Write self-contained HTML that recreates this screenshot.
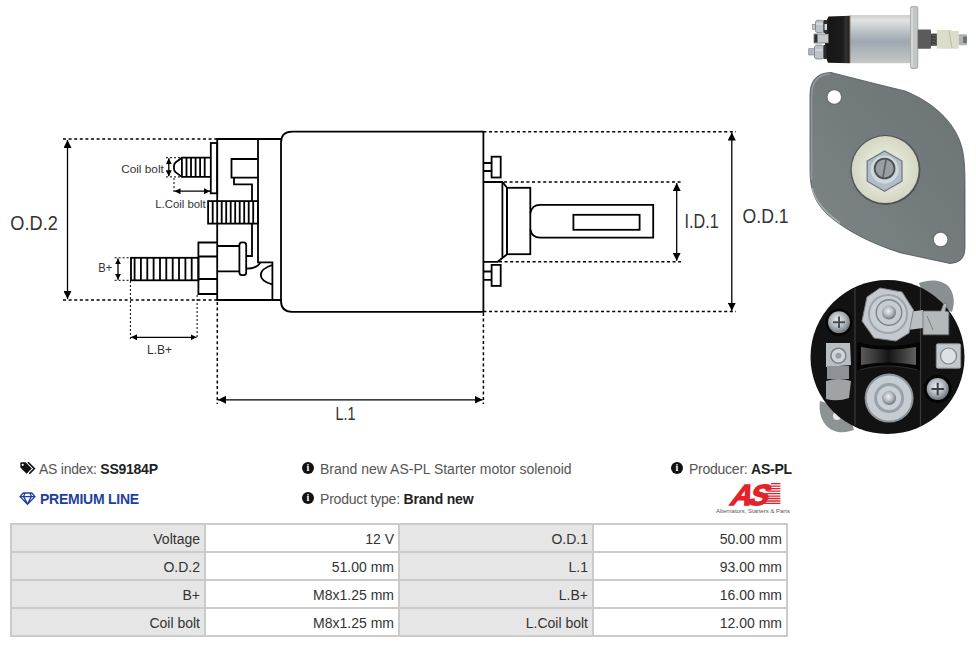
<!DOCTYPE html>
<html><head><meta charset="utf-8">
<style>
html,body{margin:0;padding:0;background:#fff;width:976px;height:647px;overflow:hidden;position:relative;font-family:"Liberation Sans",sans-serif;}
svg{position:absolute;left:0;top:0;}
.info{position:absolute;font-size:14px;color:#555;white-space:nowrap;line-height:16px;}
.info b{color:#222;}
table{position:absolute;left:10px;top:523px;border-collapse:collapse;border:2px solid #cbcbcb;font-size:14px;color:#333;}
td{border:2px solid #cbcbcb;width:188px;height:24px;padding:2px 4px 0 0;text-align:right;box-sizing:content-box;line-height:24px;}
td.h{background:#e6e6e6;}
.ic{display:inline-block;width:12px;height:12px;border-radius:50%;background:#111;color:#fff;font-family:"Liberation Serif",serif;font-weight:bold;font-size:10px;line-height:12px;text-align:center;margin-right:6px;vertical-align:1px;letter-spacing:0;position:relative;top:-2px;}
</style></head><body>
<svg id="draw" width="976" height="647" viewBox="0 0 976 647">
<defs>
<marker id="a" viewBox="0 0 10 10" refX="10" refY="5" markerWidth="8" markerHeight="8" markerUnits="userSpaceOnUse" orient="auto-start-reverse"><path d="M0,0 L10,5 L0,10z" fill="#000"/></marker>
<marker id="s" viewBox="0 0 10 10" refX="10" refY="5" markerWidth="6" markerHeight="6" markerUnits="userSpaceOnUse" orient="auto-start-reverse"><path d="M0,0 L10,5 L0,10z" fill="#000"/></marker>
</defs>
<g fill="none" stroke="#000" stroke-width="1.8">
<!-- can -->
<path d="M483.4,131.7 H292 Q281,131.7 281,142.7 V300.8 Q281,311.8 292,311.8 H483.4 Z"/>
<!-- left block -->
<path d="M282,139 H217.2 V300 H282"/>
<path d="M258,139 V262.4 H272.4 V300"/>
<rect x="210.8" y="143" width="6.4" height="50.3"/>
<path d="M258,159 H231.5 V177.6 H258"/>
<path d="M234,177.6 V184.4 H252 V201"/>
<path d="M252,223.6 V256 H246.2"/>
<!-- coil bolt -->
<path d="M210.8,157.7 H181.9 L175.5,162.5 Q174,163.8 174,166 V168.5 Q174,170.8 175.5,172.1 L181.9,176.9 H210.8"/>
<path d="M181.9,158 V176.6 M186.5,158 V176.6 M191,158 V176.6 M195.6,158 V176.6 M200.1,158 V176.6 M204.7,158 V176.6"/>
<!-- middle threaded -->
<rect x="208.1" y="201.1" width="49.8" height="22.5"/>
<path d="M212.7,201 V223.6 M221.7,201 V223.6 M226.2,201 V223.6 M230.7,201 V223.6 M235.2,201 V223.6 M239.7,201 V223.6 M244.2,201 V223.6 M248.7,201 V223.6 M253.2,201 V223.6"/>
<!-- B+ nut & bolt -->
<path d="M217.2,242.5 H198.4 V294 H217.2 M198.4,256.5 H217.2 M198.4,279 H217.2"/>
<rect x="131" y="257.8" width="67.4" height="22.5"/>
<path d="M134.6,258 V280 M140.9,258 V280 M147.3,258 V280 M153.6,258 V280 M160,258 V280 M166.3,258 V280 M172.7,258 V280 M179,258 V280 M185.4,258 V280 M191.7,258 V280"/>
<!-- spool -->
<path d="M217.2,246 H239.4 M217.2,271.4 H239.4"/>
<rect x="239.4" y="242.4" width="6.8" height="32.7" rx="2.6"/>
<path d="M246.2,268.6 Q257,268.6 260.5,262.4"/>
<path d="M272.2,265 C257,270 257,280 272.2,284.4"/>
<!-- right side -->
<path d="M483.4,163 H491.6 M483.4,171 H491.6"/>
<rect x="491.6" y="156.7" width="9.1" height="20.8"/>
<path d="M483.4,271.5 H491.6 M483.4,279.9 H491.6"/>
<rect x="491.6" y="264.9" width="9.1" height="21"/>
<path d="M483.4,182 H502.4 L507,187.8 V254.3 L497.7,261.8 H483.4"/>
<path d="M502.4,182 V257.2"/>
<rect x="507" y="187.8" width="23.3" height="66.4"/>
<path d="M530.3,213 Q532,204.8 540,204.8 H653.2 V237.7 H540 Q532,237.7 530.3,229.5"/>
<rect x="573.4" y="214.8" width="66.2" height="15"/>
</g>
<!-- dashed lines -->
<g fill="none" stroke="#000" stroke-width="1.5" stroke-dasharray="3 2.6">
<path d="M63,139 H217 M63,300 H217"/>
<path d="M483.4,131.7 H736 M483.4,311.6 H736"/>
<path d="M504,182 H681 M499,261.8 H681"/>
<path d="M217.3,302 V404 M483.4,313 V404"/>
</g>
<g fill="none" stroke="#000" stroke-width="1" stroke-dasharray="2 2">
<path d="M166,157.7 H181 M166,176.9 H181"/>
<path d="M174,178 V194 M210.5,178 V194"/>
<path d="M114.6,257.8 H131 M114.6,280.3 H131"/>
<path d="M130.4,281 V339 M197.1,295 V339"/>
</g>
<!-- arrows -->
<g fill="none" stroke="#000" stroke-width="1.3">
<path d="M67.5,140 V299" marker-start="url(#a)" marker-end="url(#a)"/>
<path d="M731.8,132.5 V310.8" marker-start="url(#a)" marker-end="url(#a)"/>
<path d="M676.7,183 V260.8" marker-start="url(#a)" marker-end="url(#a)"/>
<path d="M218,399.8 H482.6" marker-start="url(#a)" marker-end="url(#a)"/>
<path d="M131,337.3 H196.5" marker-start="url(#s)" marker-end="url(#s)"/>
<path d="M174.5,191.2 H210" marker-start="url(#s)" marker-end="url(#s)"/>
<path d="M168.8,158.3 V176.3" marker-start="url(#s)" marker-end="url(#s)"/>
<path d="M118,258.4 V279.7" marker-start="url(#s)" marker-end="url(#s)"/>
</g>
<!-- labels -->
<g font-family="Liberation Sans" fill="#333">
<text x="10.3" y="230" font-size="20.5" textLength="47.5" lengthAdjust="spacingAndGlyphs">O.D.2</text>
<text x="742.6" y="223" font-size="20.5" textLength="46" lengthAdjust="spacingAndGlyphs">O.D.1</text>
<text x="684.6" y="227.6" font-size="20.5" textLength="34" lengthAdjust="spacingAndGlyphs">I.D.1</text>
<text x="335.6" y="420" font-size="19" textLength="20" lengthAdjust="spacingAndGlyphs">L.1</text>
<text x="147" y="353.8" font-size="13.5" textLength="25" lengthAdjust="spacingAndGlyphs">L.B+</text>
<text x="98.2" y="272.2" font-size="13.5" textLength="14" lengthAdjust="spacingAndGlyphs">B+</text>
<text x="121.2" y="172.6" font-size="11.5" textLength="42.6" lengthAdjust="spacingAndGlyphs">Coil bolt</text>
<text x="155.2" y="208" font-size="11.5" textLength="50.6" lengthAdjust="spacingAndGlyphs">L.Coil bolt</text>
</g>
</svg>

<svg id="photos" width="976" height="647" viewBox="0 0 976 647">
<defs>
<linearGradient id="can1" x1="0" y1="0" x2="0" y2="1">
<stop offset="0" stop-color="#c9cccc"/><stop offset="0.1" stop-color="#e2e4e4"/><stop offset="0.3" stop-color="#c2c7ca"/><stop offset="0.55" stop-color="#9ea8b2"/><stop offset="0.8" stop-color="#b4b9bc"/><stop offset="1" stop-color="#c6c9c9"/>
</linearGradient>
<linearGradient id="cap1" x1="0" y1="0" x2="1" y2="0">
<stop offset="0" stop-color="#151515"/><stop offset="0.7" stop-color="#1c1c1c"/><stop offset="0.85" stop-color="#333"/><stop offset="1" stop-color="#1a1a1a"/>
</linearGradient>
<linearGradient id="plate" x1="1" y1="0" x2="0" y2="1">
<stop offset="0" stop-color="#6b7374"/><stop offset="0.5" stop-color="#737b7c"/><stop offset="1" stop-color="#7f8687"/>
</linearGradient>
<radialGradient id="bolt" cx="0.45" cy="0.4" r="0.6">
<stop offset="0" stop-color="#f0f2f4"/><stop offset="0.5" stop-color="#b8bec4"/><stop offset="1" stop-color="#6f767c"/>
</radialGradient>
<radialGradient id="washer" cx="0.5" cy="0.5" r="0.5">
<stop offset="0.6" stop-color="#e1e4d2"/><stop offset="1" stop-color="#d2d6c2"/>
</radialGradient>
</defs>
<!-- photo 1 : side view -->
<g>
<path d="M828.5,16.5 L850,15.7 L850,63.2 L828,62.8 L825,55 L825,24 Z" fill="url(#cap1)"/>
<rect x="812.5" y="24.3" width="3" height="5" fill="#c3c8cc" stroke="#7d8286" stroke-width="0.6"/>
<path d="M815.5,21.5 L817,20.3 H822 L823.5,21.5 V31.5 L822,32.5 H817 L815.5,31.5 Z" fill="#bcc3c9" stroke="#6f757a" stroke-width="0.7"/>
<path d="M816,24 H823" stroke="#e6eaee" stroke-width="1"/>
<rect x="823.5" y="20" width="4" height="13" fill="#2c2c2c"/>
<rect x="824.5" y="24" width="2.5" height="6" fill="#d9dcde"/>
<rect x="814" y="34" width="14.4" height="9" fill="#c4c9cc" stroke="#5e6367" stroke-width="0.7"/>
<rect x="814.3" y="34.5" width="3.2" height="8" fill="#2e2e2e"/>
<rect x="808.7" y="48.7" width="5.8" height="6.3" fill="#bfc4c8" stroke="#767b80" stroke-width="0.6"/>
<path d="M810,49 V55 M812,49 V55" stroke="#8b9095" stroke-width="0.6"/>
<path d="M814.5,46.5 L816,45 H822 L823.5,46.5 V57.5 L822,59 H816 L814.5,57.5 Z" fill="#bcc2c7" stroke="#6f757a" stroke-width="0.7"/>
<path d="M815,50 H823" stroke="#e3e7ea" stroke-width="1"/>
<rect x="823.5" y="45" width="3" height="14" fill="#2a2a2a"/>
<rect x="849.8" y="15.1" width="61" height="48.1" fill="url(#can1)"/>
<path d="M850,15.5 V63" stroke="#7a6a40" stroke-width="0.8"/>
<rect x="910.6" y="6.4" width="7.2" height="62" rx="1.5" fill="#c4c6c6" stroke="#9a9ea0" stroke-width="0.8"/>
<path d="M912,8 V67" stroke="#e8eaea" stroke-width="1"/>
<rect x="917.7" y="29.6" width="13.3" height="19.1" rx="1" fill="#5b5b5b"/>
<rect x="931" y="33.6" width="6.4" height="12.2" fill="#3e3e3e"/>
<path d="M932,35 L936,36 M932,38 L936,39 M932,41 L936,42 M932,44 L936,45" stroke="#777" stroke-width="0.7"/>
<path d="M936.8,30.1 H951 L953,31 H958.8 V48.7 H936.8 Z" fill="#dcdccb"/>
<path d="M949,31 L952,48" stroke="#b9baa8" stroke-width="1"/>
<rect x="958.8" y="34.2" width="8.2" height="11" rx="1" fill="#aeb3b7"/>
<rect x="963" y="36.5" width="4" height="6.5" fill="#6f7478"/>
</g>
<!-- photo 2 : mounting plate -->
<g>
<path d="M810,95 Q810,73 831,72.5 L876,83.9 L905,91 C930,101 955,120 962,148 C965,160 965,175 965,190 L965,248 Q965,263 950,263.5 L900,252.7 C870,243 845,230 828,215 C815,203 810,190 810,170 Z" fill="url(#plate)"/>
<path d="M810,95 Q810,73 831,72.5 L876,83.9 L905,91 C930,101 955,120 962,148 C965,160 965,175 965,190 L965,248 Q965,263 950,263.5 L900,252.7 C870,243 845,230 828,215 C815,203 810,190 810,170 Z" fill="none" stroke="#4a5253" stroke-width="1" opacity="0.8"/>
<path d="M811.5,180 V96 Q811.5,75 830,74" fill="none" stroke="#aab1b1" stroke-width="1.4" opacity="0.6"/>
<path d="M812,188 C816,203 826,213 840,223" fill="none" stroke="#c5caca" stroke-width="1.6" opacity="0.6"/>
<circle cx="834.3" cy="97" r="8" fill="#6a6f71"/>
<circle cx="834.3" cy="97" r="6.8" fill="#fff"/>
<circle cx="940.6" cy="239.5" r="8" fill="#6a6f71"/>
<circle cx="940.6" cy="239.5" r="6.8" fill="#fff"/>
<circle cx="885.5" cy="170" r="35" fill="#4f5355"/>
<circle cx="885.2" cy="169.6" r="33.5" fill="url(#washer)"/>
<path d="M884.6,151 L902,161.1 V181.2 L884.6,191.3 L867.2,181.2 V161.1 Z" fill="#b1bcc6" stroke="#6e7780" stroke-width="1.2"/>
<circle cx="884.6" cy="169.6" r="14" fill="#d0d8df"/>
<circle cx="884.6" cy="168.5" r="10.8" fill="#4a4f52"/>
<circle cx="884.6" cy="168.5" r="9" fill="#999ea1"/>
<path d="M886,160 L883,177" stroke="#5a5f62" stroke-width="1.6"/>
</g>
<!-- photo 3 : end cap -->
<g>
<path d="M919,283 C930,279 945,279 951,290 C955,298 954,305 952,312 L925,300 Z" fill="#8a8f91"/>
<path d="M820,401 C818,412 822,425 832,430 C840,434 848,432 854,430 L848,410 Z" fill="#8d9294"/>
<circle cx="837" cy="416" r="4" fill="#fff" opacity="0.8"/>
<circle cx="887.5" cy="357" r="77" fill="#121212"/>
<clipPath id="disc"><circle cx="887.5" cy="357" r="76"/></clipPath>
<path d="M855,283 V432 M920.5,283 V432" stroke="#3a3a3a" stroke-width="1.2" clip-path="url(#disc)"/>
<linearGradient id="bridge" x1="0" y1="0" x2="1" y2="0"><stop offset="0" stop-color="#5a5a5a"/><stop offset="0.25" stop-color="#3a3a3a"/><stop offset="0.5" stop-color="#141414"/><stop offset="0.75" stop-color="#3a3a3a"/><stop offset="1" stop-color="#626262"/></linearGradient>
<path d="M857,342 Q887,350 920,342 V370 Q887,362 857,370 Z" fill="#050505"/>
<path d="M861,347 Q887,352 916,347 V365 Q887,360 861,365 Z" fill="url(#bridge)"/>
<path d="M860,370 Q887,362 917,370" fill="none" stroke="#2e2e2e" stroke-width="1.2"/>
<circle cx="839" cy="322.3" r="13.5" fill="#050505"/>
<circle cx="839" cy="322.3" r="11" fill="url(#bolt)"/>
<path d="M833,322.3 H845 M839,316.5 V328" stroke="#4a5055" stroke-width="2"/>
<circle cx="937.7" cy="389" r="14" fill="#050505"/>
<circle cx="937.7" cy="389" r="11" fill="url(#bolt)"/>
<path d="M931.5,389 H944 M937.7,382.8 V395.2" stroke="#3a3f44" stroke-width="2"/>
<path d="M826,343 L850,343 L851,365 L826,367 Z" fill="#b9bec2"/>
<circle cx="838.4" cy="355.7" r="7.5" fill="#d0d5d9" stroke="#7b8085" stroke-width="1.5"/>
<circle cx="838.4" cy="355.7" r="3" fill="#9aa0a5"/>
<rect x="827" y="366" width="22" height="13" fill="#8e9296"/>
<path d="M826,381 Q838,377 851,381 L849,398 Q838,402 826,399 Z" fill="#9fa3a5"/>
<rect x="936.3" y="343.8" width="24.4" height="24.4" rx="1.5" fill="#c3c8cc" stroke="#8a9094" stroke-width="1"/>
<circle cx="948.5" cy="356" r="8" fill="#dde1e4" stroke="#7c8287" stroke-width="1.2"/>
<path d="M908,312 L923,310 V328 L908,330 Z" fill="#b8bec2"/>
<path d="M923,311 L941,311 L944,303 L947,304 L945,311 L948.8,312 V334.8 L923,334.8 Z" fill="#b3b8bb" stroke="#6d7276" stroke-width="0.8"/>
<path d="M927,316 L933,330" stroke="#7c8185" stroke-width="1"/>
<path d="M862,321 L867,297 L880,288 L902,292 L913.5,310 L909,333 L896,341 L874,338 Z" fill="#c3c9ce" stroke="#7d848a" stroke-width="1"/>
<circle cx="888" cy="314" r="20" fill="#9ea6ad"/>
<circle cx="888" cy="314" r="18" fill="#c8ced3"/>
<circle cx="889" cy="312.5" r="13.5" fill="#7f878e"/>
<circle cx="889" cy="312.5" r="12" fill="#c5ccd2"/>
<circle cx="889" cy="312.5" r="7" fill="url(#bolt)"/>
<circle cx="889.1" cy="398.1" r="24.5" fill="#8d959c"/>
<circle cx="889.1" cy="398.1" r="22.5" fill="#c5ccd2"/>
<circle cx="889.1" cy="398.1" r="15" fill="#9aa2a9"/>
<circle cx="889.1" cy="398.1" r="12" fill="#c9d0d6"/>
<circle cx="889.1" cy="398.1" r="7" fill="url(#bolt)"/>
</g>
</svg>

<div class="info" style="left:19px;top:461px;letter-spacing:-0.25px;">
<svg width="16" height="13" viewBox="0 0 16 13" style="position:relative;left:1px;top:1px;vertical-align:0;margin-right:4px;"><path d="M0.3,1.2 Q0.3,0.3 1.2,0.3 H5.6 L11.8,6.5 L6.6,11.7 L0.3,5.4 Z" fill="#111"/><circle cx="2.7" cy="2.8" r="1.1" fill="#fff"/><path d="M7.6,0.6 H8.4 L14.4,6.6 L9.4,11.6" fill="none" stroke="#111" stroke-width="1.5"/></svg>AS index: <b>SS9184P</b></div>
<div class="info" style="left:19px;top:491px;color:#1f3f9f;font-weight:bold;letter-spacing:-0.25px;">
<svg width="17" height="13" viewBox="0 0 17 13" style="position:relative;top:1px;margin-right:4px;"><path d="M4.2,1 H12.8 L16,4.6 L8.5,12.2 L1,4.6 Z M1,4.6 H16 M6,1 L4.6,4.6 L8.5,12 L12.4,4.6 L11,1" fill="none" stroke="#1f3f9f" stroke-width="1.3" stroke-linejoin="round"/></svg>PREMIUM LINE</div>
<div class="info" style="left:302px;top:461px;"><span class="ic">i</span>Brand new AS-PL Starter motor solenoid</div>
<div class="info" style="left:302px;top:491px;letter-spacing:-0.2px;"><span class="ic">i</span>Product type: <b>Brand new</b></div>
<div class="info" style="left:671px;top:461px;letter-spacing:-0.25px;"><span class="ic">i</span>Producer: <b>AS-PL</b></div>
<svg width="80" height="38" viewBox="0 0 80 38" style="left:712px;top:478px;">
<path d="M59.0,5.70 H68.4 M57.7,8.17 H68.4 M56.5,10.64 H68.4 M55.2,13.11 H68.4 M54.0,15.58 H68.4 M52.7,18.05 H68.4 M51.5,20.52 H68.4 M50.2,22.99 H68.4 M49.0,25.46 H68.4 " stroke="#e3232b" stroke-width="1.3"/>
<text x="23" y="26.6" font-family="Liberation Sans" font-weight="bold" font-size="29" fill="#e3232b" letter-spacing="-3" stroke="#e3232b" stroke-width="1.4" transform="skewX(-22) translate(4.5,0)">AS</text>
<text x="4.1" y="34.8" font-family="Liberation Sans" font-size="5.8" fill="#555" textLength="73.8" lengthAdjust="spacingAndGlyphs">Alternators, Starters &amp; Parts</text>
</svg>
<table>
<tr><td class="h">Voltage</td><td>12 V</td><td class="h">O.D.1</td><td>50.00 mm</td></tr>
<tr><td class="h">O.D.2</td><td>51.00 mm</td><td class="h">L.1</td><td>93.00 mm</td></tr>
<tr><td class="h">B+</td><td>M8x1.25 mm</td><td class="h">L.B+</td><td>16.00 mm</td></tr>
<tr><td class="h">Coil bolt</td><td>M8x1.25 mm</td><td class="h">L.Coil bolt</td><td>12.00 mm</td></tr>
</table>
</body></html>
